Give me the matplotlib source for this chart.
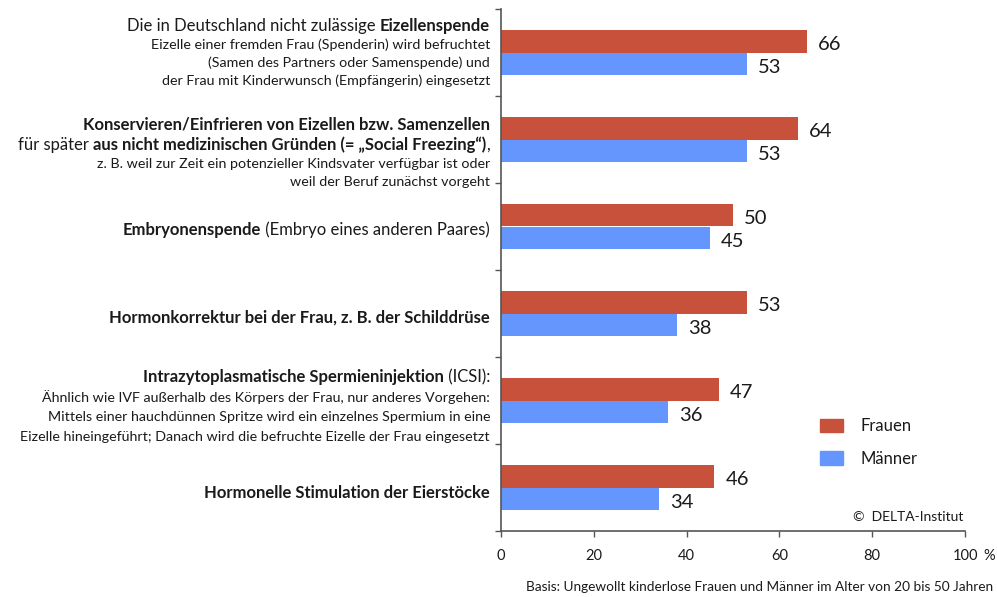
import matplotlib
matplotlib.use("Agg")
import matplotlib.pyplot as plt
import numpy as np
from matplotlib.patches import Patch

plt.rcParams['font.family'] = ['Lato', 'DejaVu Sans']

# values (percent), top to bottom
frauen = [66, 64, 50, 53, 47, 46]
maenner = [53, 53, 45, 38, 36, 34]
series_names = ["Frauen", "Männer"]
xticks = [0, 20, 40, 60, 80, 100]
xtick_labels = ["0", "20", "40", "60", "80", "100"]

# category labels: list of lines, each line = (size, [(text, bold), ...])
B, S = "big", "small"
labels = [
    [(B, [("Die in Deutschland nicht zulässige ", False), ("Eizellenspende", True)]),
     (S, [("Eizelle einer fremden Frau (Spenderin) wird befruchtet", False)]),
     (S, [("(Samen des Partners oder Samenspende) und", False)]),
     (S, [("der Frau mit Kinderwunsch (Empfängerin) eingesetzt", False)])],
    [(B, [("Konservieren/Einfrieren von Eizellen bzw. Samenzellen", True)]),
     (B, [("für später ", False), ("aus nicht medizinischen Gründen (= „Social Freezing“)", True), (",", False)]),
     (S, [("z. B. weil zur Zeit ein potenzieller Kindsvater verfügbar ist oder", False)]),
     (S, [("weil der Beruf zunächst vorgeht", False)])],
    [(B, [("Embryonenspende", True), (" (Embryo eines anderen Paares)", False)])],
    [(B, [("Hormonkorrektur bei der Frau, z. B. der Schilddrüse", True)])],
    [(B, [("Intrazytoplasmatische Spermieninjektion", True), (" (ICSI):", False)]),
     (S, [("Ähnlich wie IVF außerhalb des Körpers der Frau, nur anderes Vorgehen:", False)]),
     (S, [("Mittels einer hauchdünnen Spritze wird ein einzelnes Spermium in eine", False)]),
     (S, [("Eizelle hineingeführt; Danach wird die befruchte Eizelle der Frau eingesetzt", False)])],
    [(B, [("Hormonelle Stimulation der Eierstöcke", True)])],
]
# vertical offsets (px) of each label line from the group centre
line_dy = [
    [-26.5, -7.5, 10.5, 28.5],
    [-14.5, 5.5, 24.5, 42.5],
    [3.5],
    [4.5],
    [-23.5, -3.5, 16.5, 36.5],
    [5.5],
]

red = "#C8513B"
blue = "#6496FD"
txt = "#1a1a1a"
sizes = {B: 12, S: 10.3}

fig = plt.figure(figsize=(9.97, 5.97), dpi=100)
ax = fig.add_axes([501 / 997, 66 / 597, 464 / 997, 522 / 597])

y = np.arange(len(frauen))
h = 0.26
ax.barh(y - h / 2, frauen, height=h, color=red, label=series_names[0])
ax.barh(y + h / 2, maenner, height=h, color=blue, label=series_names[1])

for i in range(len(frauen)):
    ax.annotate(str(frauen[i]), xy=(frauen[i], y[i] - h / 2), xytext=(8, -2.5),
                textcoords="offset points", va="center", ha="left", fontsize=14.5, color=txt)
    ax.annotate(str(maenner[i]), xy=(maenner[i], y[i] + h / 2), xytext=(8, -2.5),
                textcoords="offset points", va="center", ha="left", fontsize=14.5, color=txt)

ax.set_xlim(0, 100)
ax.set_ylim(len(frauen) - 0.5, -0.5)
ax.set_yticks([])
ax.set_yticks(np.arange(-0.5, len(frauen)), minor=True)
ax.tick_params(axis="y", which="minor", length=4, width=1, color="#555555", labelleft=False)
ax.set_xticks(xticks)
ax.set_xticklabels(xtick_labels)
ax.tick_params(axis="x", length=4, width=1, color="#555555", pad=9, labelsize=10.5, labelcolor=txt)
for sp in ["top", "right"]:
    ax.spines[sp].set_visible(False)
for sp in ["left", "bottom"]:
    ax.spines[sp].set_color("#555555")
    ax.spines[sp].set_linewidth(1.2)

ax.annotate("%", xy=(100, 0), xycoords=("data", "axes fraction"), xytext=(13, -13),
            textcoords="offset points", ha="left", va="top", fontsize=10.5, color=txt)

# category labels, built right to left so bold and normal parts can mix
ytrans = ax.get_yaxis_transform()
for gi, lines in enumerate(labels):
    for (size, segs), dy in zip(lines, line_dy[gi]):
        fs = sizes[size]
        prev = None
        for text, bold in reversed(segs):
            w = "bold" if bold else "normal"
            if prev is None:
                prev = ax.annotate(text, xy=(0, gi), xycoords=ytrans,
                                   xytext=(-11 * 0.72, -dy * 0.72), textcoords="offset points",
                                   ha="right", va="center", fontsize=fs, fontweight=w,
                                   color=txt, annotation_clip=False)
            else:
                prev = ax.annotate(text, xy=(0, 0), xycoords=prev, ha="right", va="bottom",
                                   fontsize=fs, fontweight=w, color=txt, annotation_clip=False)

handles = [Patch(color=red), Patch(color=blue)]
ax.legend(handles, series_names, loc="upper left", bbox_to_anchor=(820 / 997, 1 - 418 / 597),
          bbox_transform=fig.transFigure, frameon=False, fontsize=12, handlelength=1.35,
          handleheight=0.85, handletextpad=1.1, labelspacing=1.0, borderpad=0, borderaxespad=0,
          labelcolor=txt)

fig.text(963 / 997, 1 - 517 / 597, "©  DELTA-Institut", ha="right", va="center", fontsize=10, color=txt)
fig.text(993 / 997, 1 - 587 / 597, "Basis: Ungewollt kinderlose Frauen und Männer im Alter von 20 bis 50 Jahren",
         ha="right", va="center", fontsize=9.8, color=txt)

fig.savefig("out.png", dpi=100)
